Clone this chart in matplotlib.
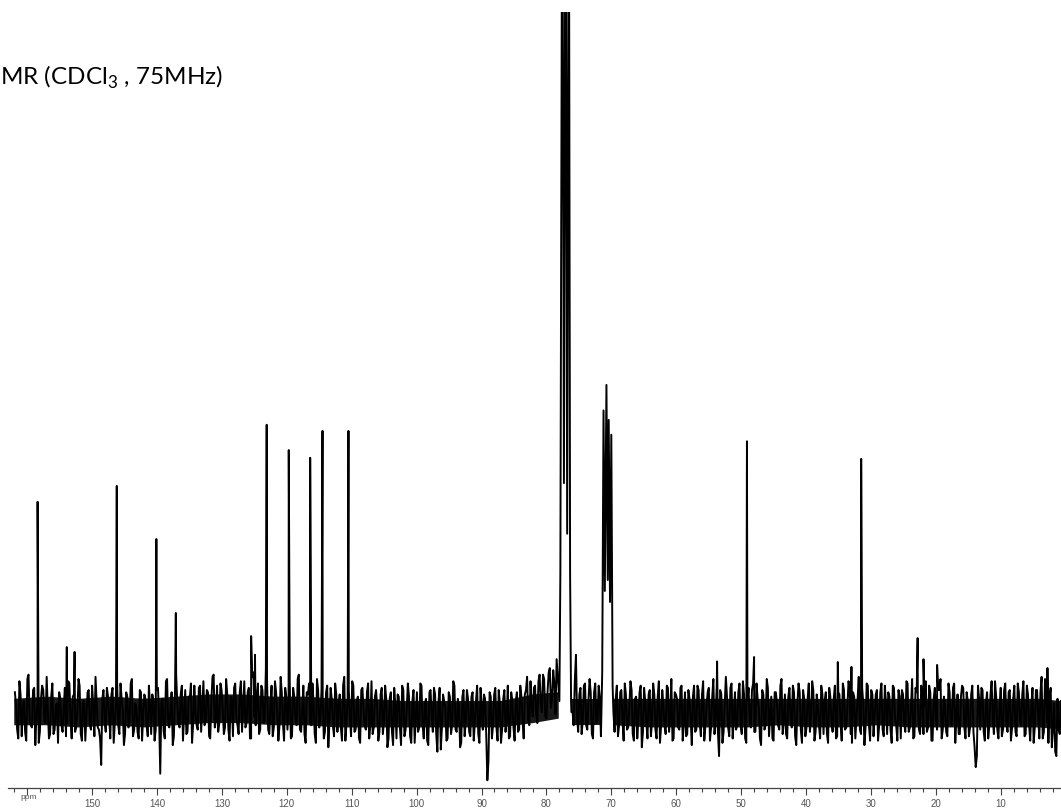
import numpy as np
import matplotlib
matplotlib.use("Agg")
import matplotlib.pyplot as plt
from matplotlib.ticker import MultipleLocator

plt.rcParams['font.family'] = ['Lato', 'DejaVu Sans']
plt.rcParams['mathtext.fontset'] = 'custom'
plt.rcParams['mathtext.rm'] = 'Lato'

# 13C NMR spectrum (intensity in arbitrary units)
# baseline noise, sampled on two interleaved grids
ppm_start, ppm_end = 161.9, 0.9
noise = [
    9, -8, 14, -11, 5, -13, 17, -6, 10, -15, 4, -9, 12, -4, 16, -12, 7, -10, 3, -14,
    6, -9, 11, -5, 13, -12, 8, -7, 15, -10, 5, -13, 9, -6, 12, -11, 4, -8, -24, 10,
    -9, 7, -12, 11, -5, 14, -10, 6, -15, 9, -7, 13, -11, 4, -9, 10, -13, 8, -6, 12,
    -10, 5, -8, 11, -28, 6, -12, 15, -7, 9, -11, 17, -5, 8, -13, 10, -9, 6, -14, 12,
    -6, 11, -9, 14, -4, 9, -12, 16, -7, 12, -5, 10, -10, 15, -8, 7, -11, 13, -6, 9,
    -9, 14, -5, 11, -12, 18, -6, 13, -8, 10, -4, 15, -10, 12, -7, 9, -13, 16, -5, 11,
    -8, 14, -11, 7, -6, 17, -9, 12, -14, 8, -5, 13, -10, 15, -7, 10, -12, 9, -16, 11,
    -6, 13, -9, 8, -13, 16, -5, 10, -11, 12, -8, 7, -14, 11, -6, 9, -12, 14, -7, 10,
    -13, 8, -10, 12, -16, 6, -9, 11, -12, 7, -15, 10, -8, 13, -11, 5, -14, 9, -7, 12,
    -12, 6, -15, 10, -9, 8, -18, 11, -7, 5, -13, 9, -10, 14, -8, 6, -16, 7, -11, 10,
    -9, 7, -13, 5, -10, 11, -8, 6, -31, 9, -12, 8, -7, 10, -14, 6, -9, 12, -11, 5,
    -13, 9, -8, 7, -12, 10, -4, 14, -2, 12, -5, 17, 0, 15, -3, 18, 2, 19, -1, 16,
    0, 0, 0, 0, 0, 0, -6, 26, -9, 11, -4, 13, -8, 15, -10, 9, -5, 12, -11, 10,
    0, 0, 0, 0, -9, 12, -6, 10, -13, 8, -7, 14, -10, 6, -12, 9, -16, 11, -5, 8,
    -11, 13, -8, 7, -14, 10, -6, 12, -9, 15, -12, 8, -7, 11, -13, 9, -10, 6, -15, 12,
    -8, 10, -11, 14, -6, 9, -13, 7, -10, 12, -20, 8, -9, 16, -7, 11, -12, 9, -6, 13,
    -10, 8, -14, 11, -7, 13, -9, 6, -12, 10, -8, 15, -11, 7, -13, 9, -6, 12, -10, 8,
    -12, 11, -7, 9, -15, 13, -8, 10, -11, 6, -9, 14, -13, 8, -6, 12, -10, 9, -14, 7,
    -9, 12, -11, 8, -13, 10, -7, 14, -10, 9, -12, 6, -8, 11, -15, 13, -6, 10, -11, 8,
    -13, 9, -8, 12, -10, 7, -14, 11, -6, 10, -12, 8, -9, 13, -7, 15, -11, 9, -8, 12,
    -10, 14, -7, 9, -13, 11, -8, 10, -12, 7, -9, 13, -6, 11, -14, 8, -10, 12, -7, 9,
    -11, 8, -9, -25, 12, -8, 10, -13, 9, -6, 14, -10, 7, -12, 11, -8, 13, -9, 10, -7,
    12, -11, 9, -6, 14, -10, 8, -13, 11, -7, 10, -12, 16, -9, 7, -14, 11, -8, -18, 6, -10,
]
ppm_start2, ppm_end2 = 161.725, 0.725
noise2 = [
    3, -12, 8, 2, -9, 15, -3, -7, 11, -1, -14, 6, 10, -5, 1, -10, 13, -8, 4, 9,
    -6, 2, -11, 14, -3, 7, -9, 0, 12, -13, 5, -2, 10, -8, 3, 16, -7, -12, 6, -4,
    11, -2, 8, -14, 4, -6, 13, 1, -10, 7, -4, 15, -8, 2, -12, 9, -1, 6, -11, 3,
    8, -13, 10, -3, 5, -9, 14, -6, 2, -15, 9, 4, -7, 12, -2, -10, 7, 13, -5, 0,
    -8, 12, 3, -6, 10, -11, 5, 17, -4, -9, 13, 1, -7, 8, -13, 6, 11, -3, -10, 14,
    2, -7, 9, -12, 16, -2, 6, -10, 12, -5, 20, -8, 3, -11, 14, 0, -6, 9, -13, 7,
    5, -12, 11, -3, 15, -8, 1, -10, 9, 13, -6, 4, -14, 10, -2, 7, -9, 12, -4, 6,
    -11, 8, 3, -7, 12, -13, 6, -2, 14, -9, 5, -12, 10, 1, -8, 13, -5, -10, 7, 2,
    -9, 11, -4, 6, -12, 9, -15, 3, 8, -7, 12, -11, 1, 7, -14, 10, -3, -9, 13, -6,
    4, -13, 9, -2, 11, -10, 5, -17, 8, 2, -12, 7, -6, 12, -9, 3, -14, 10, -4, 6,
    -11, 9, -5, 12, -14, 3, 8, -10, -22, 7, -6, 11, -13, 4, -8, 10, -3, -12, 9, -7,
    5, -9, 12, -4, 8, 16, -6, 3, 11, -1, 14, 4, 17, -2, 9, 20, 6, 13, 24, 8,
    0, 0, 0, 0, 0, 0, 14, -3, 8, -10, 12, -6, 5, 9, -12, 13, -4, 7, -9, 11,
    0, 0, 0, 0, 6, -11, 9, -4, 13, -8, 2, 10, -13, 7, -3, 12, -9, 5, -12, 10,
    -4, 8, -12, 14, -6, 3, -10, 11, -2, -13, 9, 6, -8, 12, -5, -11, 10, -3, 7, -9,
    12, -5, 8, -13, 3, 11, -7, 15, -2, -9, 10, -14, 4, 7, -11, 13, -3, -8, 9, -6,
    14, -12, 5, -4, 10, -9, 13, 2, -15, 8, -6, 11, -2, -12, 9, 4, -8, 15, -5, -10,
    7, -3, 12, -11, 4, 9, -14, 6, -7, 13, -2, 10, -9, 3, -12, 8, 5, -10, 11, -4,
    6, -12, 9, -5, 13, -8, 2, 11, -14, 7, -3, 16, -10, 4, -7, 12, -13, 8, -2, 10,
    -6, 13, -11, 4, 9, -8, 12, -3, -13, 7, 10, -5, 14, -9, 2, -12, 11, 6, -10, 8,
    3, -9, 12, -13, 6, -4, 10, 15, -8, 2, -11, 9, -6, 13, -2, -10, 7, 11, -12, 5,
    -7, 12, -16, -20, 6, 11, -9, 4, -12, 8, -3, 14, -8, 2, -11, 10, -5, 9, -13, 6,
    -9, 13, -4, 8, -11, 12, -6, 3, -14, 10, -2, 9, -12, 15, -5, 7, -16, 4, -20, -8, 5,
]

# dense core of the noise band (upper / lower edge), gaps under the
# CDCl3 triplet and the 70-71 ppm multiplet
core_ppm = [162, 157, 152, 147, 142, 137, 132, 127, 122, 117, 112, 107, 102, 97,
            92, 87, 82, 78.1, 78.0, 76.1, 76.0, 71.5, 71.4, 69.7, 69.6, 64, 59,
            54, 49, 44, 39, 34, 29, 24, 19, 14, 9, 4, 0.7]
core_hi = [6, 7, 6, 7, 6, 7, 8, 8, 7, 7, 6, 6, 5, 5,
           5, 5, 8, 9, 9, 6, 6, 6, 6, 6, 6, 6, 6,
           6, 6, 6, 6, 6, 6, 6, 6, 6, 6, 6, 5]
core_lo = [-6, -6, -7, -6, -7, -6, -5, -5, -6, -6, -7, -7, -7, -7,
           -7, -7, -5, -3, -3, -6, -6, -6, -6, -6, -6, -7, -7,
           -7, -7, -6, -7, -7, -6, -7, -7, -7, -7, -7, -8]
core_on = ([True] * 18 + [False, False] + [True] * 3 + [False]
           + [True] * 15)

# single lines
peak_ppm = [158.4, 153.9, 152.7, 146.2, 140.1, 137.1, 125.5, 124.9, 123.1, 119.7,
            116.4, 114.5, 110.5, 53.7, 49.1, 48.0, 35.1, 33.0, 31.5, 22.8, 21.9,
            19.8, 2.8]
peak_height = [95.5, 29.5, 27.3, 102.7, 78.6, 45, 34.5, 26, 130.5, 119,
               115.5, 127.7, 127.7, 23, 123, 25, 22.7, 20.5, 115, 33.6, 24,
               21.4, 20]

# CDCl3 triplet (goes off the top)
solvent_ppm = [78.0, 77.85, 77.55, 77.3, 77.05, 76.8, 76.55, 76.35, 76.2]
solvent_height = [5, 63, 420, 104, 420, 81, 420, 63, 5]

# multiplet around 70-71 ppm
multi_ppm = [71.4, 71.2, 71.0, 70.75, 70.55, 70.4, 70.2, 70.0, 69.8]
multi_height = [18, 137, 55, 148.6, 60, 132.7, 50, 126, 12]

tick_values = [150, 140, 130, 120, 110, 100, 90, 80, 70, 60, 50, 40, 30, 20, 10]

# build the trace
noise_ppm = np.concatenate([np.linspace(ppm_start, ppm_end, len(noise)),
                            np.linspace(ppm_start2, ppm_end2, len(noise2))])
noise_val = np.array(noise + noise2, dtype=float)
keep = ~(((noise_ppm > 76.15) & (noise_ppm < 78.05)) |
         ((noise_ppm > 69.75) & (noise_ppm < 71.45)))
x = np.concatenate([noise_ppm[keep], peak_ppm, solvent_ppm, multi_ppm])
y = np.concatenate([noise_val[keep], peak_height, solvent_height, multi_height])
order = np.argsort(-x)
x, y = x[order], y[order]

fig = plt.figure(figsize=(10.61, 8.10), dpi=100)
ax = fig.add_axes([8 / 1061, 22 / 810, 1 - 8 / 1061, 776 / 810])
ax.fill_between(core_ppm, core_lo, core_hi, where=core_on, color='#1a1a1a', lw=0)
ax.plot(x, y, color='black', lw=1.4)

ax.set_xlim(162.96, 0.71)
ax.set_ylim(-34.5, 318)

for s in ['top', 'left', 'right']:
    ax.spines[s].set_visible(False)
ax.spines['bottom'].set_color('#444444')
ax.spines['bottom'].set_linewidth(0.9)
ax.set_yticks([])

ax.xaxis.set_major_locator(MultipleLocator(10))
ax.xaxis.set_minor_locator(MultipleLocator(2))
ax.set_xticks(tick_values + [160])
ax.set_xticklabels([str(v) for v in tick_values] + [''],
                   fontfamily='Liberation Sans')
ax.tick_params(axis='x', which='major', length=5, width=0.8, color='#444444',
               labelsize=7, labelcolor='#555555', pad=3)
ax.tick_params(axis='x', which='minor', length=3, width=0.8, color='#444444')

ax.text(0.012, -0.008, 'ppm', transform=ax.transAxes, fontsize=6,
        family='Liberation Sans', color='#555555', ha='left', va='top')

fig.text(0.0, 1 - 85 / 810, 'MR (CDCl$_3$ , 75MHz)', fontsize=17.5,
         color='black', ha='left', va='baseline')

fig.savefig('out.png', dpi=100)
